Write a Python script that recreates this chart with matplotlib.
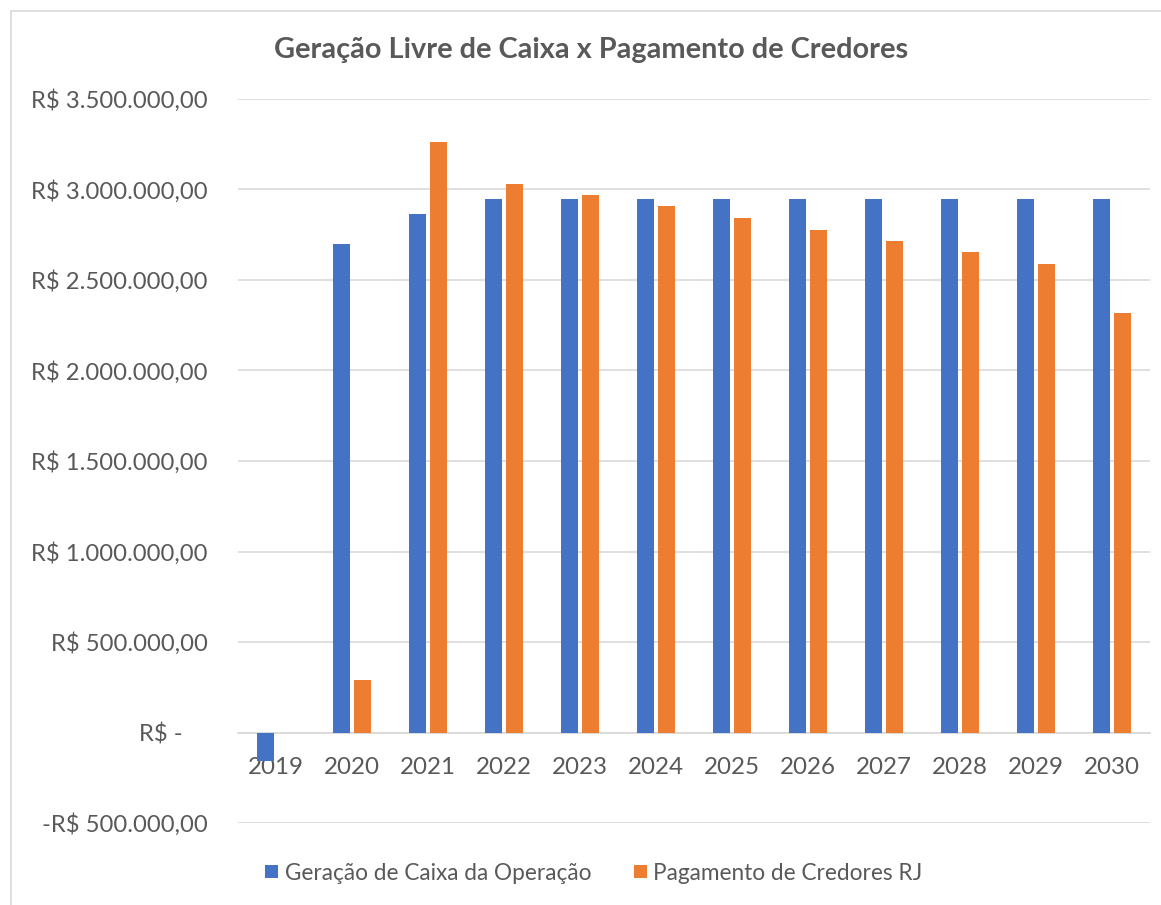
import matplotlib
matplotlib.use("Agg")
import matplotlib.pyplot as plt
import numpy as np
from matplotlib.ticker import FuncFormatter, MultipleLocator
from matplotlib.patches import Rectangle

years = ["2019", "2020", "2021", "2022", "2023", "2024", "2025", "2026", "2027", "2028", "2029", "2030"]
geracao = [-160000, 2700000, 2862000, 2949000, 2949000, 2949000, 2949000, 2949000, 2949000, 2949000, 2949000, 2949000]
pagamento = [0, 291000, 3265000, 3033000, 2967000, 2908000, 2844000, 2777000, 2713000, 2656000, 2590000, 2319000]
series_names = ["Geração de Caixa da Operação", "Pagamento de Credores RJ"]
title = "Geração Livre de Caixa x Pagamento de Credores"

BLUE = "#4472C4"
ORANGE = "#ED7D31"
TXT = "#595959"
FONT = ["Lato", "DejaVu Sans"]

plt.rcParams['font.family'] = FONT

fig = plt.figure(figsize=(11.61, 9.05), dpi=100)
ax = fig.add_axes([238/1161, 1-823/905, (1150-238)/1161, (823-99)/905])

x = np.arange(len(years))
w = 0.225
off = 0.138
ax.bar(x - off, geracao, width=w, color=BLUE, label=series_names[0], zorder=3)
ax.bar(x + off, pagamento, width=w, color=ORANGE, label=series_names[1], zorder=3)

ax.set_xlim(-0.5, len(years) - 0.5)
ax.set_ylim(-500000, 3500000)
ax.yaxis.set_major_locator(MultipleLocator(500000))

def fmt(v, pos):
    if abs(v) < 1:
        return "R$ -    "
    s = f"{abs(v):,.2f}".replace(",", "X").replace(".", ",").replace("X", ".")
    return ("-R$ " if v < 0 else "R$ ") + s

ax.yaxis.set_major_formatter(FuncFormatter(fmt))
ax.grid(axis='y', color="#D9D9D9", linewidth=1.2, zorder=0)
ax.set_axisbelow(True)
for s in ["top", "right", "left"]:
    ax.spines[s].set_visible(False)
ax.spines["bottom"].set_position(("data", 0))
ax.spines["bottom"].set_color("#D9D9D9")
ax.spines["bottom"].set_linewidth(1.2)

ax.set_xticks(x)
ax.set_xticklabels(years)
ax.tick_params(axis='x', length=0, pad=18, labelsize=17.4, labelcolor=TXT)
ax.tick_params(axis='y', length=0, pad=22, labelsize=17.2, labelcolor=TXT)

fig.text(591/1161, 1-50/905, title, ha='center', va='center', fontsize=20.8,
         fontweight='bold', color=TXT)

leg = fig.legend(loc='center', bbox_to_anchor=(594/1161, 1-873/905), ncol=2,
                 frameon=False, fontsize=16.3, handlelength=0.55, handleheight=0.55,
                 handletextpad=0.3, columnspacing=1.9, labelcolor=TXT)

fig.patches.append(Rectangle((11/1161, -0.01), 1.0, 1-11/905 + 0.01,
                             transform=fig.transFigure, fill=False,
                             edgecolor="#D9D9D9", linewidth=1.2))

fig.savefig("out.png", dpi=100, facecolor="white")
